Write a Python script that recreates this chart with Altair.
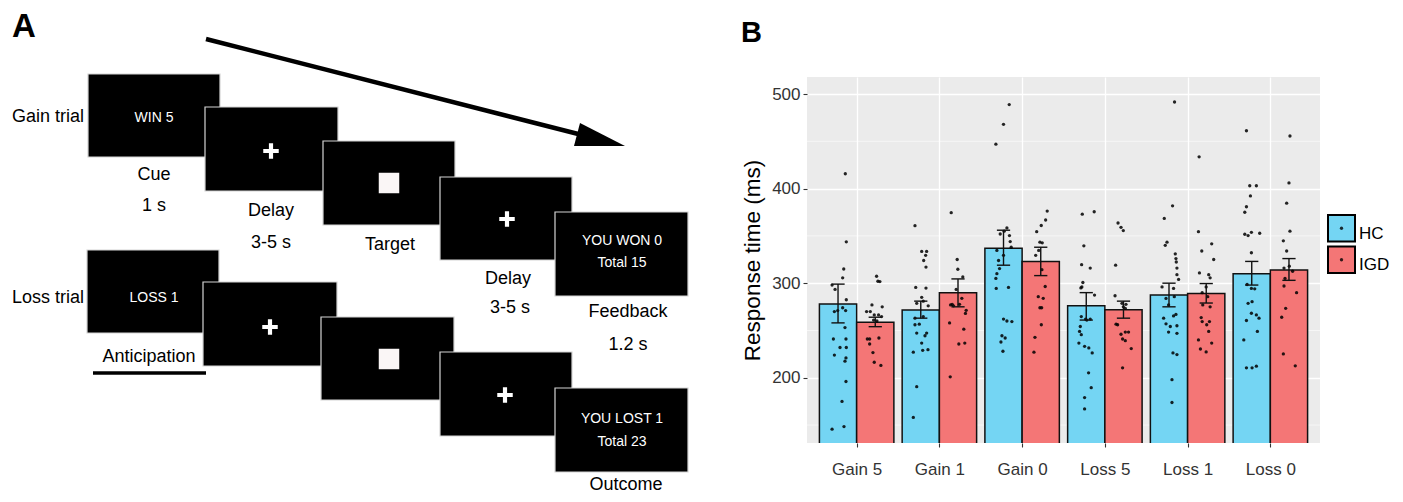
import altair as alt
import pandas as pd

FONT = "Liberation Sans"

# ---------------- Panel B data ----------------
categories = ["Gain 5", "Gain 1", "Gain 0", "Loss 5", "Loss 1", "Loss 0"]
groups = ["HC", "IGD"]
group_colors = ["#74D5F3", "#F47676"]

hc_mean = [278, 271.7, 337, 276, 287.4, 310]
hc_err_low = [258, 263, 319, 261, 275, 298]
hc_err_high = [299, 281, 356, 290, 300, 323]
igd_mean = [258.7, 290, 323, 272, 289, 314]
igd_err_low = [254, 275, 308, 263, 279, 303]
igd_err_high = [264, 304.5, 338, 281, 299.6, 326]

hc_values = [
    [415.7, 343.7, 315, 305.6, 298, 293.4, 282.5, 274, 270, 271, 271, 253, 241, 241, 232, 232, 224, 221, 217.5, 196, 175, 145.6, 148.4],
    [360.8, 333.6, 333.6, 329.4, 324, 317, 295.5, 294.8, 285, 281, 278.7, 276, 263, 264.7, 256, 256.6, 247.2, 247.2, 244.4, 236.7, 229, 229.7, 227, 190.6, 158],
    [488.8, 468, 447, 358.4, 355, 352, 350.3, 344, 338, 329.4, 334.6, 324, 315.4, 310, 305, 294.4, 295.5, 262, 260, 259.4, 244.4, 242, 237.8, 228],
    [373, 375.5, 339.5, 319.6, 316, 300.7, 296, 295, 287.4, 264.7, 262, 261, 262, 254.2, 249, 245.5, 236.7, 233.2, 231.5, 226.2, 205.2, 189.5, 179, 167],
    [491.6, 381.8, 368.5, 343.4, 340, 331, 326, 322.4, 316, 309, 304, 296, 294.4, 285.7, 283.9, 277, 267, 265.4, 263, 257, 254.2, 255, 248.3, 247, 226.2, 224.5, 198, 173.8],
    [461.2, 403, 403, 392.3, 380.8, 375, 351.7, 350.3, 353.8, 352.8, 332.2, 298.6, 294.4, 294, 280.4, 278.7, 268.2, 266.4, 263, 260.5, 249, 240, 210.5, 210.5, 212.2],
]
hc_jitter = [
    [0.088, 0.10, 0.069, 0.056, -0.072, -0.036, 0.10, 0.056, -0.044, -0.004, 0.092, 0.084, -0.056, 0.096, 0.024, 0.10, -0.044, 0.096, 0.084, 0.096, 0.048, -0.072, 0.072],
    [-0.07, 0.011, 0.071, 0.059, 0.035, 0.063, -0.061, 0.063, 0.011, 0.03, -0.049, 0.09, -0.07, 0.03, -0.07, -0.018, -0.049, 0.071, 0.051, 0.011, 0.023, 0.087, -0.09, -0.049, -0.09],
    [0.069, 0.0, -0.092, 0.041, 0.008, -0.04, 0.072, 0.081, 0.093, 0.0, -0.08, -0.06, -0.048, -0.08, -0.092, -0.088, 0.06, 0.0, 0.041, 0.101, -0.019, 0.02, -0.031, -0.007],
    [-0.048, 0.096, -0.029, -0.056, 0.048, -0.041, -0.053, -0.065, 0.1, -0.06, -0.008, 0.007, 0.048, -0.072, -0.081, -0.06, -0.089, -0.02, 0.031, 0.072, 0.028, 0.06, -0.02, -0.02],
    [0.067, 0.043, -0.057, -0.024, -0.045, 0.076, 0.084, 0.088, 0.096, 0.096, 0.116, -0.084, 0.055, 0.064, -0.036, -0.005, 0.084, 0.055, -0.065, -0.036, 0.016, 0.096, -0.005, 0.096, 0.048, 0.096, 0.036, 0.036],
    [-0.064, -0.024, 0.056, -0.016, -0.064, -0.084, -0.084, -0.044, -0.004, 0.096, -0.004, -0.056, -0.004, 0.036, 0.004, -0.044, -0.004, 0.056, 0.088, -0.064, 0.068, -0.096, -0.064, 0.004, 0.056],
]
igd_values = [
    [307.3, 302, 301.7, 277, 275, 270, 270, 266.4, 266.4, 264.7, 261, 260, 241, 241, 242, 235.7, 226.6, 216.4, 213],
    [374.5, 325, 314.7, 306.6, 293.4, 284, 277.6, 277, 276, 277.6, 271.3, 268, 258, 251.4, 235.7, 236.7, 201],
    [376.2, 366.8, 361, 354.5, 343.4, 342.7, 334.6, 329.4, 314.3, 296.5, 285.7, 274, 274, 284, 256, 242.7, 227],
    [363.6, 359, 355.6, 319, 286.7, 278.7, 277.6, 275, 273.4, 256.6, 256, 248.3, 248.3, 246, 241, 239.2, 230.8, 210.5],
    [433.6, 354.5, 341.6, 334, 325, 310.8, 309, 305.6, 296, 290, 285.7, 277, 275, 263.6, 259.4, 259.4, 256, 249, 240, 236.7, 230.4, 227.3],
    [455.6, 406, 384.6, 355, 344.8, 334, 316, 318, 312.6, 305, 297, 290, 273.4, 264, 225.2, 212.6],
]
igd_jitter = [
    [0.016, 0.032, 0.056, -0.04, 0.084, -0.105, -0.06, -0.012, 0.04, 0.076, -0.02, 0.02, -0.068, -0.096, 0.044, -0.068, -0.028, -0.012, 0.068],
    [-0.082, -0.01, -0.002, 0.058, -0.022, 0.046, -0.07, -0.09, -0.054, 0.018, 0.099, 0.09, -0.102, 0.07, 0.01, 0.082, -0.094],
    [0.078, 0.059, 0.006, -0.049, -0.01, 0.018, -0.025, -0.061, 0.014, 0.054, -0.03, 0.011, -0.01, 0.03, 0.007, -0.07, -0.082],
    [-0.066, -0.03, -0.002, -0.095, -0.102, -0.018, 0.03, -0.002, 0.022, -0.09, -0.071, 0.022, 0.061, -0.03, -0.011, 0.022, 0.094, -0.011],
    [-0.086, -0.094, 0.066, -0.054, 0.09, -0.082, 0.03, 0.047, -0.001, -0.049, 0.018, -0.042, 0.047, -0.061, -0.049, 0.039, 0.006, 0.03, -0.094, 0.066, -0.07, -0.001],
    [0.012, 0.0, -0.028, 0.012, -0.068, -0.028, -0.06, 0.004, 0.044, -0.048, -0.06, 0.092, -0.04, -0.088, -0.068, 0.076],
]

y_ticks = [200, 300, 400, 500]
y_minor = [150, 250, 350, 450]
y_title = "Response time (ms)"

# ---------------- Panel A texts ----------------
panel_letters = ["A", "B"]
trial_labels = ["Gain trial", "Loss trial"]
screen_texts = ["WIN 5", "LOSS 1", "YOU WON 0", "Total 15", "YOU LOST 1", "Total 23"]
stage_labels = ["Cue", "1 s", "Delay", "3-5 s", "Target", "Delay", "3-5 s",
                "Feedback", "1.2 s", "Anticipation", "Outcome"]

# ---------------- Panel A layout (diagram geometry, page pixels) ----------------
letter_pos = [(12, 37, 33), (741, 42, 29)]
trial_pos = [(12, 122), (12, 303)]
screen_text_pos = [(154, 122), (154, 302), (622, 245), (622, 267), (622, 423), (622, 446)]
stage_pos = [(154, 180), (154, 211), (271, 216), (271, 248), (390, 250), (508, 284),
             (510, 313), (628, 317), (628, 350), (149, 362), (626, 490)]
screens = [(88, 74, 220, 157), (205, 107, 338, 191), (323, 141, 455, 225), (440, 177, 572, 260),
           (555, 212, 688, 296), (87, 250, 219, 333), (203, 282, 337, 366), (321, 317, 454, 400),
           (440, 352, 572, 436), (555, 388, 688, 472)]
fixation_pos = [(271, 151), (507, 219), (270, 327), (505, 395)]
target_pos = [(389, 183), (389, 359)]
arrow_line = [(206, 39, 590, 137)]
arrow_head_x = [574, 580, 625]
arrow_head_y = [146, 123, 146]
underline = [(93, 373, 206, 373)]
page_corner = [(8, 8, 9, 9)]

# plot panels start at page y = 77 (top of panel B's plot area)
TOP = 77
BOTTOM = 494

# =============== Panel A ===============
AX = alt.Scale(domain=[8, 807], nice=False, zero=False)
AY = alt.Scale(domain=[TOP, BOTTOM], nice=False, zero=False, reverse=True)


def ax(f):
    return alt.X(f, type="quantitative", scale=AX, axis=None)


def ay(f):
    return alt.Y(f, type="quantitative", scale=AY, axis=None)


corner_df = pd.DataFrame(page_corner, columns=["x1", "y1", "x2", "y2"])
corner = alt.Chart(corner_df).mark_rect(color="white").encode(
    x=ax("x1"), x2="x2", y=ay("y1"), y2="y2")

screens_df = pd.DataFrame(screens, columns=["x1", "y1", "x2", "y2"])
boxes = alt.Chart(screens_df).mark_rect(fill="black", stroke="#d4d4d4", strokeWidth=1.2).encode(
    x=ax("x1"), x2="x2", y=ay("y1"), y2="y2")

line_df = pd.DataFrame(arrow_line, columns=["x1", "y1", "x2", "y2"])
arrow = alt.Chart(line_df).mark_rule(color="black", strokeWidth=4.5).encode(
    x=ax("x1"), x2="x2", y=ay("y1"), y2="y2")
head_df = pd.DataFrame({"x": arrow_head_x, "y": arrow_head_y, "yb": [max(arrow_head_y)] * 3})
head = alt.Chart(head_df).mark_area(color="black").encode(x=ax("x"), y=ay("y"), y2="yb")

ul_df = pd.DataFrame(underline, columns=["x1", "y1", "x2", "y2"])
ul = alt.Chart(ul_df).mark_rule(color="black", strokeWidth=3.5).encode(
    x=ax("x1"), x2="x2", y=ay("y1"))

plus_path = "M-1,-0.27H-0.27V-1H0.27V-0.27H1V0.27H0.27V1H-0.27V0.27H-1Z"
fix_df = pd.DataFrame(fixation_pos, columns=["x", "y"])
fix = alt.Chart(fix_df).mark_point(shape=plus_path, filled=True, fill="white", strokeWidth=0,
                                   size=240, opacity=1).encode(x=ax("x"), y=ay("y"))
tgt_df = pd.DataFrame(target_pos, columns=["x", "y"])
tgt = alt.Chart(tgt_df).mark_square(size=420, color="#FAF6F6", opacity=1).encode(x=ax("x"), y=ay("y"))

scr_df = pd.DataFrame({"t": screen_texts, "x": [p[0] for p in screen_text_pos],
                       "y": [p[1] for p in screen_text_pos]})
scr_txt = alt.Chart(scr_df).mark_text(color="white", fontSize=14, align="center",
                                      baseline="alphabetic", font=FONT).encode(
    text="t:N", x=ax("x"), y=ay("y"))

stg_df = pd.DataFrame({"t": stage_labels, "x": [p[0] for p in stage_pos],
                       "y": [p[1] for p in stage_pos]})
stg_txt = alt.Chart(stg_df).mark_text(color="black", fontSize=18, align="center",
                                      baseline="alphabetic", font=FONT, clip=True).encode(
    text="t:N", x=ax("x"), y=ay("y"))

tr_df = pd.DataFrame({"t": trial_labels, "x": [p[0] for p in trial_pos],
                      "y": [p[1] for p in trial_pos]})
tr_txt = alt.Chart(tr_df).mark_text(color="black", fontSize=18, align="left",
                                    baseline="alphabetic", font=FONT).encode(
    text="t:N", x=ax("x"), y=ay("y"))

let_df = pd.DataFrame({"t": panel_letters, "x": [p[0] for p in letter_pos],
                       "y": [p[1] for p in letter_pos], "s": [p[2] for p in letter_pos]})
let_txt = alt.Chart(let_df).mark_text(color="black", fontWeight="bold", align="left",
                                      baseline="alphabetic", font=FONT).encode(
    text="t:N", x=ax("x"), y=ay("y"), size=alt.Size("s:Q", scale=None, legend=None))

panel_a = alt.layer(corner, arrow, head, boxes, fix, tgt, scr_txt, stg_txt, tr_txt, ul,
                    let_txt).properties(width=799, height=BOTTOM - TOP)

# =============== Panel B ===============
bar_rows = []
for i, c in enumerate(categories):
    bar_rows.append(dict(idx=i, cat=c, group=groups[0], mean=hc_mean[i], lo=hc_err_low[i], hi=hc_err_high[i]))
    bar_rows.append(dict(idx=i, cat=c, group=groups[1], mean=igd_mean[i], lo=igd_err_low[i], hi=igd_err_high[i]))
bars_df = pd.DataFrame(bar_rows)

pt_rows = []
for i in range(len(categories)):
    for v, j in zip(hc_values[i], hc_jitter[i]):
        pt_rows.append(dict(idx=i, group=groups[0], value=v, jit=j))
    for v, j in zip(igd_values[i], igd_jitter[i]):
        pt_rows.append(dict(idx=i, group=groups[1], value=v, jit=j))
pts_df = pd.DataFrame(pt_rows)

DODGE = 0.225
CAP = 0.08
xscale = alt.Scale(domain=[-0.6, len(categories) - 0.4], nice=False, zero=False)
yscale = alt.Scale(domain=[131, 518], nice=False, zero=False)
label_expr = "[" + ",".join("'%s'" % c for c in categories) + "][datum.value]"

x_axis = alt.Axis(values=list(range(len(categories))), labelExpr=label_expr, title=None,
                  grid=True, gridColor="white", gridWidth=1.3, domain=False,
                  ticks=True, tickColor="#333333", tickSize=4, tickWidth=1.1,
                  labelFont=FONT, labelFontSize=17, labelColor="#333333", labelPadding=14)
y_axis = alt.Axis(values=y_ticks, title=y_title, grid=True, gridColor="white", gridWidth=1.3,
                  domain=False, ticks=True, tickColor="#333333", tickSize=4, tickWidth=1.1,
                  labelFont=FONT, labelFontSize=17, labelColor="#333333", labelPadding=3,
                  titleFont=FONT, titleFontSize=22.5, titleFontWeight="normal", titleColor="black",
                  titlePadding=7)


def bx(f):
    return alt.X(f, type="quantitative", scale=xscale, axis=x_axis)


def by(f):
    return alt.Y(f, type="quantitative", scale=yscale, axis=y_axis)


color_scale = alt.Scale(domain=groups, range=group_colors)

base_b = alt.Chart(bars_df).transform_calculate(
    xc="datum.idx + (datum.group == '%s' ? -%f : %f)" % (groups[0], DODGE, DODGE)
).transform_calculate(
    x1="datum.xc - %f" % DODGE, x2="datum.xc + %f" % DODGE,
    c1="datum.xc - %f" % CAP, c2="datum.xc + %f" % CAP)

minor = alt.Chart(pd.DataFrame({"v": y_minor})).mark_rule(color="white", strokeWidth=0.6).encode(
    y=by("v"))

bars = base_b.mark_bar(stroke="#111111", strokeWidth=1.5, clip=True, opacity=1).encode(
    x=bx("x1"), x2="x2", y=by("mean"), y2=alt.datum(0),
    color=alt.Color("group:N", scale=color_scale, legend=None))

pts = alt.Chart(pts_df).transform_calculate(
    px="datum.idx + (datum.group == '%s' ? -%f : %f) + datum.jit" % (groups[0], DODGE, DODGE)
).mark_circle(size=11, color="black", opacity=0.85).encode(x=bx("px"), y=by("value"))

err = base_b.mark_rule(color="#111111", strokeWidth=1.4).encode(x=bx("xc"), y=by("lo"), y2="hi")
cap_lo = base_b.mark_rule(color="#111111", strokeWidth=1.4).encode(x=bx("c1"), x2="c2", y=by("lo"))
cap_hi = base_b.mark_rule(color="#111111", strokeWidth=1.4).encode(x=bx("c1"), x2="c2", y=by("hi"))

panel_b = alt.layer(minor, bars, pts, err, cap_lo, cap_hi).properties(
    width=513, height=366, view=alt.ViewBackground(fill="#EBEBEB", strokeWidth=0))

# =============== Legend panel ===============
CX = alt.Scale(domain=[1320, 1395], nice=False, zero=False)


def cx(f):
    return alt.X(f, type="quantitative", scale=CX, axis=None)


leg_df = pd.DataFrame({"group": groups, "k": list(range(len(groups)))})
leg_base = alt.Chart(leg_df).transform_calculate(
    kx1="1328", kx2="1355", kxm="1341.5",
    ky1="215 + datum.k * 31.5", ky2="215 + datum.k * 31.5 + 26.5",
    kym="215 + datum.k * 31.5 + 13.25", tx="1359", ty="239 + datum.k * 31")
keys = leg_base.mark_rect(stroke="black", strokeWidth=2).encode(
    x=cx("kx1"), x2="kx2", y=ay("ky1"), y2="ky2",
    color=alt.Color("group:N", scale=color_scale, legend=None))
dots = leg_base.mark_circle(size=11, color="black", opacity=0.8).encode(x=cx("kxm"), y=ay("kym"))
ltxt = leg_base.mark_text(align="left", baseline="alphabetic", fontSize=17, font=FONT,
                          color="black").encode(text="group:N", x=cx("tx"), y=ay("ty"))
panel_c = alt.layer(keys, dots, ltxt).properties(width=75, height=BOTTOM - TOP)

chart = alt.hconcat(panel_a, panel_b, panel_c, spacing=0, bounds="flush").properties(
    padding=0
).configure(font=FONT).configure_view(strokeWidth=0, stroke="transparent")

chart.save("out.html", embed_options={"renderer": "svg", "actions": False})
